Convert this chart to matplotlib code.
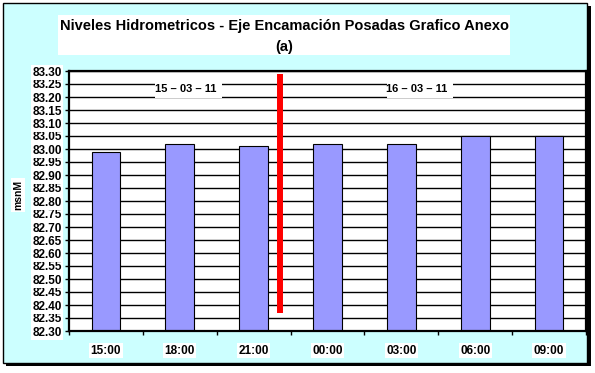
import matplotlib
matplotlib.use("Agg")
import matplotlib.pyplot as plt
from matplotlib.patches import Rectangle

# ---- data ----
categories = ["15:00", "18:00", "21:00", "00:00", "03:00", "06:00", "09:00"]
levels = [82.99, 83.02, 83.01, 83.02, 83.02, 83.05, 83.05]
y_min, y_max, y_step = 82.30, 83.30, 0.05
divider_x = 2.36
divider_levels = [82.37, 83.29]
date_labels = ["15 \u2013 03 \u2013 11", "16 \u2013 03 \u2013 11"]
title_lines = ["Niveles Hidrometricos - Eje Encamación Posadas Grafico Anexo", "(a)"]
y_label = "msnM"

plt.rcParams['font.family'] = ['Liberation Sans', 'DejaVu Sans']

W, H = 595, 373
fig = plt.figure(figsize=(W / 100, H / 100), dpi=100)
fig.patch.set_facecolor("white")

def fx(px):
    return px / W

def fy(py):
    return 1 - py / H

# outer chart frame with shadow
fig.patches.append(Rectangle((fx(6), fy(366)), fx(585), (363 - 3) / H,
                             transform=fig.transFigure, facecolor="black",
                             edgecolor="black", lw=0, zorder=-3))
fig.patches.append(Rectangle((fx(3), fy(363)), fx(584), (363 - 3) / H,
                             transform=fig.transFigure, facecolor="#CCFFFF",
                             edgecolor="black", lw=1.0, zorder=-2))

# title box
fig.patches.append(Rectangle((fx(58), fy(55)), fx(510 - 58), 40 / H,
                             transform=fig.transFigure, facecolor="white",
                             edgecolor="none", zorder=-1))
fig.text(fx(284), fy(26), title_lines[0], ha="center", va="center",
         fontsize=10.5, fontweight="bold", zorder=3)
fig.text(fx(284), fy(47.5), title_lines[1], ha="center", va="center",
         fontsize=10.5, fontweight="bold", zorder=3)

# axes
ax = fig.add_axes([fx(69), fy(331), (586 - 69) / W, (331 - 71) / H])
ax.set_zorder(5)
ax.set_facecolor("white")
x = list(range(len(categories)))
ax.set_xlim(-0.5, len(categories) - 0.5)
ax.set_ylim(y_min, y_max)

n_ticks = int(round((y_max - y_min) / y_step)) + 1
yticks = [y_min + i * y_step for i in range(n_ticks)]
ax.set_yticks(yticks)
ax.set_yticklabels([f"{v:.2f}" for v in yticks])
ax.yaxis.grid(True, color="black", lw=1.0)
ax.set_axisbelow(True)

ax.bar(x, levels, width=0.39, color="#9999FF", edgecolor="black", lw=0.8, zorder=2)

ax.plot([divider_x, divider_x], divider_levels, color="#FF0000", lw=4.3,
        solid_capstyle="butt", zorder=4)

# date labels with white boxes breaking the gridlines
for xl, lbl in zip([0.67, 3.80], date_labels):
    ax.add_patch(Rectangle((xl, 83.196), 0.9, 0.062, facecolor="white",
                           edgecolor="none", zorder=3))
for xc, lbl in zip([1.08, 4.2], date_labels):
    ax.text(xc, 83.23, lbl, ha="center", va="center", fontsize=8,
            fontweight="bold", zorder=5)

ax.set_xticks(x)
ax.set_xticklabels(categories)
ax.set_xticks([i - 0.5 for i in range(len(categories) + 1)], minor=True)
ax.tick_params(axis="x", which="major", length=0, pad=10, labelsize=8.5)
ax.tick_params(axis="x", which="minor", length=3, direction="out", width=1)
ax.tick_params(axis="y", length=3, direction="out", width=1, labelsize=8.5, pad=2)
for t in ax.get_xticklabels() + ax.get_yticklabels():
    t.set_fontweight("bold")
    t.set_bbox(dict(facecolor="white", edgecolor="none", pad=1.0))

for s in ax.spines.values():
    s.set_linewidth(1.6)
    s.set_color("black")

fig.text(fx(18), fy(195), y_label, rotation=90, ha="center", va="center",
         fontsize=7.5, fontweight="bold",
         bbox=dict(facecolor="white", edgecolor="none", pad=1.2))

fig.savefig("out.png", dpi=100)
